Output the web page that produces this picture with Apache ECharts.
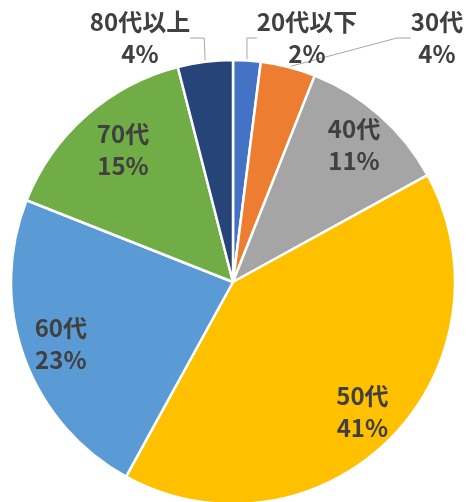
<!DOCTYPE html>
<html>
<head>
<meta charset="utf-8">
<script src="https://cdn.jsdelivr.net/npm/echarts@6/dist/echarts.min.js"></script>
<style>
  html, body { margin: 0; padding: 0; background: #fff; }
  #chart { width: 466px; height: 502px; }
</style>
</head>
<body>
<div id="chart"></div>
<script>
// age groups, clockwise from 12 o'clock
const categories = ['20代以下', '30代', '40代', '50代', '60代', '70代', '80代以上'];
const shares = [2, 4, 11, 41, 23, 15, 4];
const colors = ['#4472C4', '#ED7D31', '#A5A5A5', '#FFC000', '#5B9BD5', '#70AD47', '#264478'];

// small slices get their labels outside with a leader line
const outsideLabels = ['20代以下', '30代', '80代以上'];
// hand placed label centres (Excel moved these)
const labelSpots = {
  '20代以下': [307, 38],
  '30代': [437, 38],
  '80代以上': [140, 38],
  '70代': [123, 150]
};

const center = [233, 282];
const R = 222;
const textStyle = {
  color: '#404040',
  fontSize: 24,
  fontWeight: 'bold',
  fontFamily: '"Noto Sans CJK JP", sans-serif',
  lineHeight: 32,
  align: 'center',
  overflow: 'none'
};

const chart = echarts.init(document.getElementById('chart'));

const moveLabel = (params) => {
  const name = categories[params.dataIndex];
  const spot = labelSpots[name];
  if (!spot) return {};
  return { x: spot[0], y: spot[1], align: 'center', verticalAlign: 'middle' };
};

chart.setOption({
  animation: false,
  series: [
    {
      // visible pie, only the outside labels
      type: 'pie',
      center: center,
      radius: [0, R],
      startAngle: 90,
      clockwise: true,
      silent: true,
      itemStyle: { borderColor: '#fff', borderWidth: 2.5 },
      label: Object.assign({ show: true, position: 'outside', formatter: '{b}\n{c}%' }, textStyle),
      labelLine: {
        show: true,
        length: 20,
        length2: 14,
        lineStyle: { color: '#A6A6A6', width: 1 }
      },
      labelLayout: moveLabel,
      data: categories.map((name, i) => ({
        name: name,
        value: shares[i],
        itemStyle: { color: colors[i] },
        label: { show: outsideLabels.includes(name) },
        labelLine: { show: outsideLabels.includes(name) }
      }))
    },
    {
      // transparent ring carrying the inside labels further out
      type: 'pie',
      center: center,
      radius: [138, R],
      startAngle: 90,
      clockwise: true,
      silent: true,
      itemStyle: { color: 'rgba(0,0,0,0)' },
      label: Object.assign({ show: true, position: 'inside', formatter: '{b}\n{c}%' }, textStyle),
      labelLine: { show: false },
      labelLayout: moveLabel,
      data: categories.map((name, i) => ({
        name: name,
        value: shares[i],
        label: { show: !outsideLabels.includes(name) }
      }))
    }
  ]
});

window.addEventListener('resize', () => chart.resize());
</script>
</body>
</html>
